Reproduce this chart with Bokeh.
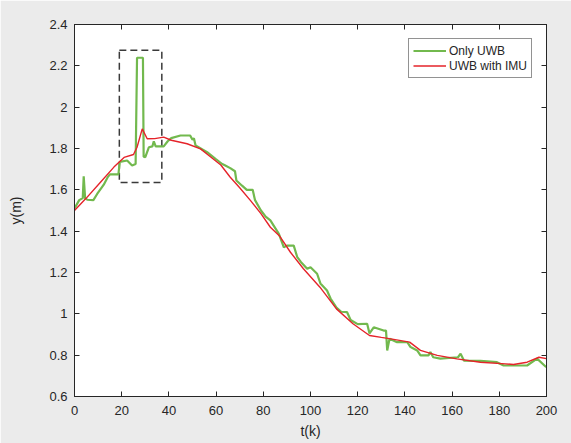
from bokeh.plotting import figure
from bokeh.models import (LinearAxis, FixedTicker, CustomJSTickFormatter, Legend,
                          LegendItem, Range1d)
from bokeh.embed import file_html
from bokeh.resources import INLINE

# ---- data ----
t_uwb = [0, 2, 3.5, 3.9, 4.5, 5.4, 8, 9.6, 12.4, 14, 15, 18.6, 19.2, 22.3, 24.4, 25.9,
         26.5, 29, 29.3, 30, 31.5, 33, 33.6, 34.4, 37.8, 39.5, 41, 44.9, 49, 50, 50.6,
         51.3, 56.2, 60, 62.6, 63.5, 66, 68, 68.6, 71, 73, 75.5, 76.5, 79, 81, 83, 86.6,
         88.7, 90, 92.9, 94.4, 96, 98.6, 100, 102.8, 104.2, 107, 108.5, 111, 113, 115.5,
         117, 120, 124, 125, 126.8, 131, 132, 132.5, 133.5, 136.7, 141, 142.4, 145.2,
         146.6, 150, 150.8, 152, 155, 162.5, 163.6, 165, 170, 172, 179, 181.8, 184.7,
         191.8, 196, 199.6, 200]
y_uwb = [1.51, 1.55, 1.56, 1.665, 1.56, 1.552, 1.55, 1.58, 1.625, 1.66, 1.675, 1.675,
         1.735, 1.742, 1.718, 1.725, 2.239, 2.239, 1.76, 1.758, 1.806, 1.81, 1.835, 1.81,
         1.81, 1.835, 1.85, 1.863, 1.863, 1.842, 1.85, 1.815, 1.782, 1.748, 1.725, 1.72,
         1.705, 1.69, 1.645, 1.62, 1.6, 1.6, 1.55, 1.5, 1.47, 1.452, 1.387, 1.322, 1.33,
         1.33, 1.274, 1.25, 1.218, 1.225, 1.194, 1.147, 1.113, 1.074, 1.03, 1.01, 1.008,
         0.97, 0.95, 0.952, 0.905, 0.935, 0.919, 0.919, 0.823, 0.88, 0.863, 0.863, 0.839,
         0.823, 0.799, 0.799, 0.815, 0.79, 0.783, 0.79, 0.807, 0.774, 0.772, 0.772, 0.766,
         0.75, 0.75, 0.75, 0.783, 0.745, 0.745]

t_imu = [0, 5, 11, 16.7, 21, 25, 26.5, 28.7, 30.8, 34, 37.8, 41, 47.7, 53.4, 57.6, 62,
         66, 70, 74.6, 79, 83, 87, 91.5, 97, 104, 111, 118, 125, 130, 134, 142, 146.6,
         153.7, 162, 172, 182.6, 186, 191.8, 196.8, 200]
y_imu = [1.5, 1.56, 1.637, 1.71, 1.757, 1.771, 1.806, 1.895, 1.847, 1.848, 1.855, 1.84,
         1.823, 1.798, 1.76, 1.72, 1.661, 1.61, 1.548, 1.485, 1.419, 1.375, 1.298, 1.218,
         1.129, 1.024, 0.952, 0.895, 0.886, 0.879, 0.863, 0.823, 0.799, 0.782, 0.766,
         0.758, 0.755, 0.766, 0.79, 0.783]

x_ticks = [0, 20, 40, 60, 80, 100, 120, 140, 160, 180, 200]
y_ticks = [0.6, 0.8, 1.0, 1.2, 1.4, 1.6, 1.8, 2.0, 2.2, 2.4]

box_t = [19, 37]
box_y = [1.635, 2.275]

series_names = ["Only UWB", "UWB with IMU"]

# ---- styling ----
FONT = "Liberation Sans"
DARK = "#262626"
GREEN = "#72b94e"
RED = "#e5232a"

p = figure(width=571, height=443, output_backend="svg", toolbar_location=None,
           x_range=Range1d(0, 200), y_range=Range1d(0.6, 2.4),
           min_border_left=74, min_border_right=25, min_border_top=24,
           min_border_bottom=47)
p.background_fill_color = "white"
p.border_fill_color = "#ebebeb"
p.outline_line_color = DARK
p.outline_line_width = 1
p.xgrid.visible = False
p.ygrid.visible = False

fmt = CustomJSTickFormatter(code="return String(Math.round(tick*10)/10);")

for ax, ticks in ((p.xaxis[0], x_ticks), (p.yaxis[0], y_ticks)):
    ax.ticker = FixedTicker(ticks=ticks)
    ax.major_tick_in = 5
    ax.major_tick_out = 0
    ax.minor_tick_line_color = None
    ax.axis_line_color = DARK
    ax.major_tick_line_color = DARK
    ax.major_label_text_font = FONT
    ax.major_label_text_font_size = "13px"
    ax.major_label_text_color = DARK
    ax.axis_label_text_font = FONT
    ax.axis_label_text_font_size = "14px"
    ax.axis_label_text_font_style = "normal"
    ax.axis_label_text_color = DARK

p.yaxis[0].formatter = fmt
p.xaxis[0].axis_label = "t(k)"
p.yaxis[0].axis_label = "y(m)"
p.xaxis[0].major_label_standoff = 9
p.xaxis[0].axis_label_standoff = 5
p.yaxis[0].major_label_standoff = 7
p.yaxis[0].axis_label_standoff = 22

# mirrored tick marks on the top and right edges (no labels)
for loc, ticks in (("right", y_ticks), ("above", x_ticks)):
    ax = LinearAxis(ticker=FixedTicker(ticks=ticks), major_tick_in=5, major_tick_out=0,
                    minor_tick_line_color=None, axis_line_color=DARK,
                    major_tick_line_color=DARK, major_label_text_font_size="1px",
                    major_label_text_color=None, major_label_standoff=0)
    p.add_layout(ax, loc)

# dashed highlight box
p.quad(left=[box_t[0]], right=[box_t[1]], bottom=[box_y[0]], top=[box_y[1]],
       fill_alpha=0, line_color="#3a3a3a", line_width=1.5, line_dash="7 4")

r_uwb = p.line(t_uwb, y_uwb, line_color=GREEN, line_width=2.2)
r_imu = p.line(t_imu, y_imu, line_color=RED, line_width=1.4)

legend = Legend(items=[LegendItem(label=series_names[0], renderers=[r_uwb]),
                       LegendItem(label=series_names[1], renderers=[r_imu])],
                location="top_right")
legend.margin = 14
legend.padding = 4
legend.spacing = 0
legend.glyph_width = 33
legend.glyph_height = 15
legend.label_height = 15
legend.label_standoff = 3
legend.label_text_font = FONT
legend.label_text_font_size = "12px"
legend.label_text_color = DARK
legend.border_line_color = DARK
legend.border_line_width = 1
legend.background_fill_color = "white"
legend.background_fill_alpha = 1
p.add_layout(legend)

open("out.html", "w").write(file_html(p, INLINE))
